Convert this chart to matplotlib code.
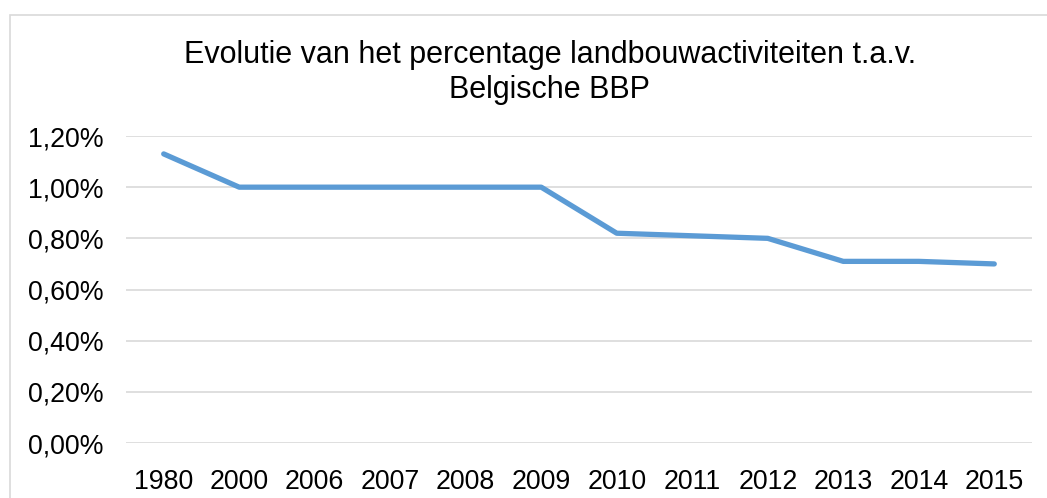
import matplotlib.pyplot as plt
from matplotlib.patches import Rectangle
from matplotlib.ticker import FuncFormatter

plt.rcParams['font.family'] = ['Liberation Sans', 'DejaVu Sans']

# data (percent of Belgian GDP)
years = ['1980', '2000', '2006', '2007', '2008', '2009',
         '2010', '2011', '2012', '2013', '2014', '2015']
share = [1.13, 1.00, 1.00, 1.00, 1.00, 1.00,
         0.82, 0.81, 0.80, 0.71, 0.71, 0.70]
yticks = [0.0, 0.2, 0.4, 0.6, 0.8, 1.0, 1.2]

fig = plt.figure(figsize=(10.47, 4.98), dpi=100)
ax = fig.add_axes([0.1203, 0.1104, 0.8654, 0.6165])

# light border of the chart area
fig.patches.append(Rectangle((10 / 1047, -0.1), 1.2, 1.1 - 15 / 498,
                             transform=fig.transFigure, fill=False,
                             edgecolor='#d9d9d9', linewidth=1.2))

x = range(len(years))
ax.plot(x, share, color='#5b9bd5', linewidth=3.8, solid_capstyle='round',
        solid_joinstyle='round', zorder=3)

ax.set_xlim(-0.5, len(years) - 0.5)
ax.set_ylim(0, 1.2)
ax.set_yticks(yticks)
ax.yaxis.set_major_formatter(FuncFormatter(lambda v, p: ('%.2f%%' % v).replace('.', ',')))
ax.set_xticks(list(x))
ax.set_xticklabels(years)
ax.grid(axis='y', color='#d9d9d9', linewidth=1.2)
ax.set_axisbelow(True)
for s in ax.spines.values():
    s.set_visible(False)
ax.tick_params(axis='both', length=0, labelsize=19.3, colors='#000000')
ax.tick_params(axis='y', pad=16)
ax.tick_params(axis='x', pad=19)

fig.text(0.525, 0.855, 'Evolutie van het percentage landbouwactiviteiten t.a.v.\nBelgische BBP',
         ha='center', va='center', fontsize=22, linespacing=1.2)

fig.savefig('out.png', dpi=100)
